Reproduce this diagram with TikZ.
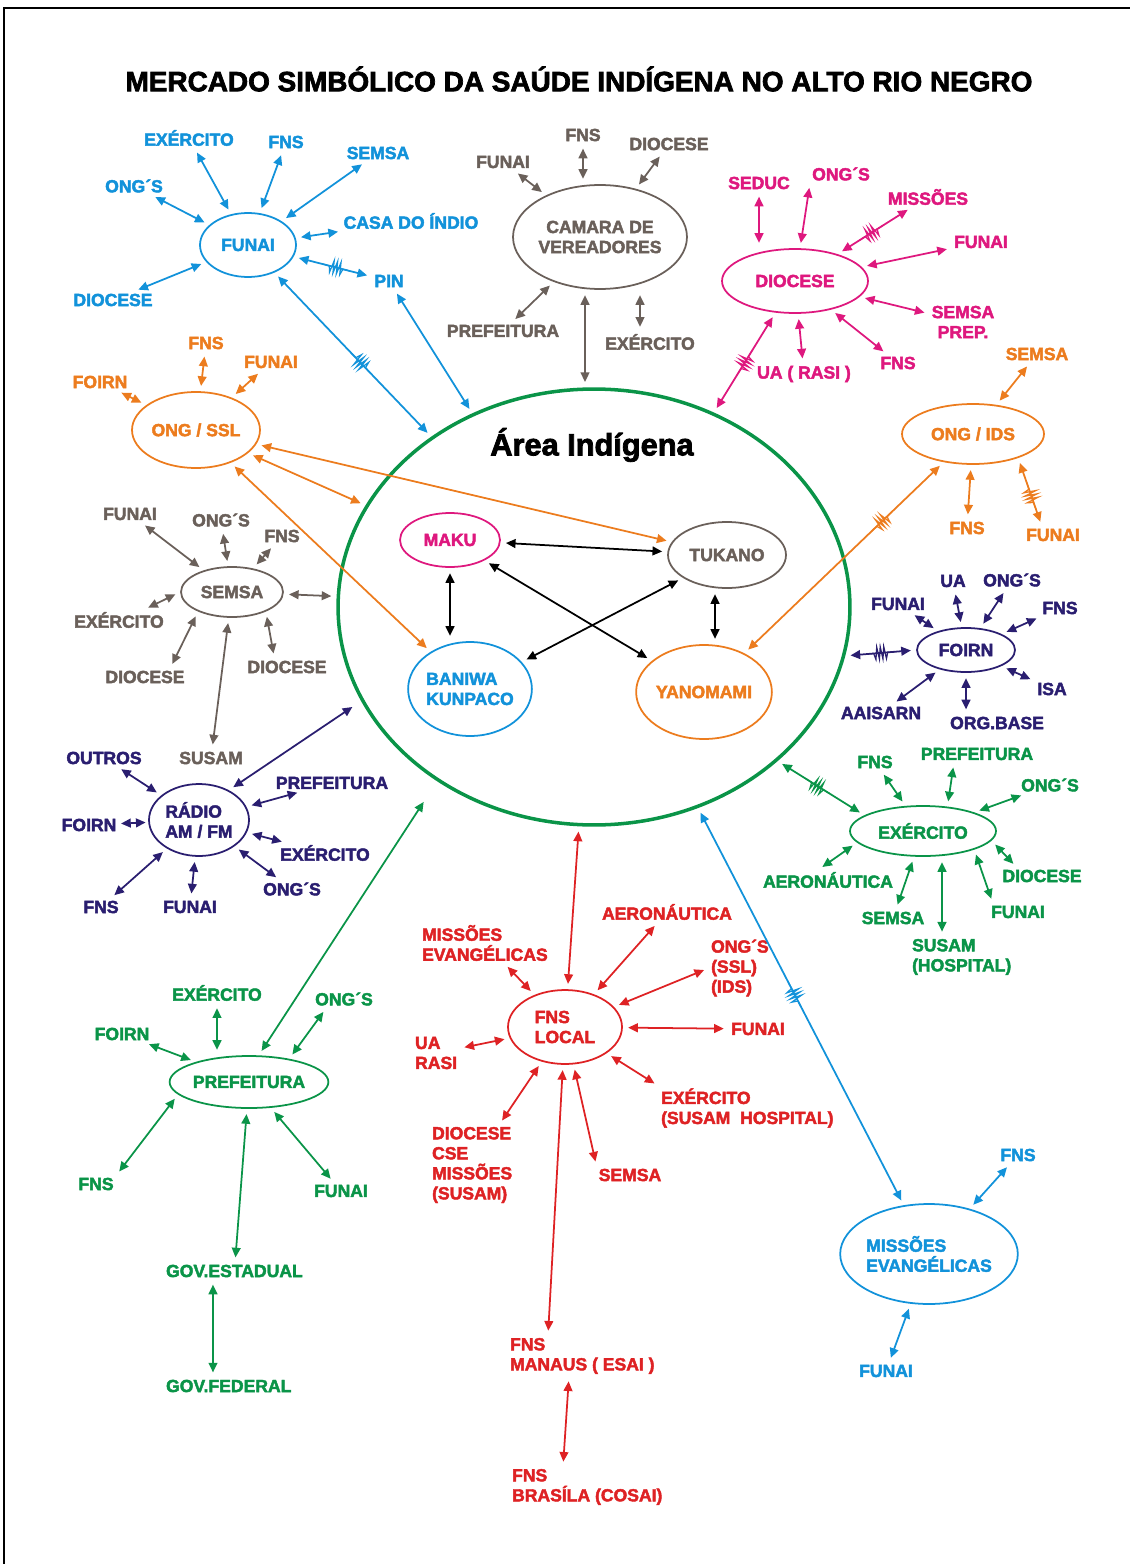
\documentclass[tikz,border=0pt]{standalone}
\usepackage{fontspec}
\setmainfont{Liberation Sans}[BoldFeatures={FakeBold=2.5}]
\usepackage{tikz}
\usetikzlibrary{arrows.meta,shapes.geometric,decorations.markings}
\definecolor{cblue}{RGB}{18,146,218}
\definecolor{cgray}{RGB}{106,96,90}
\definecolor{cmag}{RGB}{222,24,126}
\definecolor{corange}{RGB}{236,124,30}
\definecolor{cnavy}{RGB}{42,30,112}
\definecolor{cgreen}{RGB}{10,148,72}
\definecolor{cred}{RGB}{222,34,36}

\begin{document}
\begin{tikzpicture}[x=0.02cm,y=-0.02cm,>={Triangle[length=5.5pt,width=5pt]},
	lbl/.style={font=\bfseries\fontsize{10}{11.4}\selectfont,inner sep=1pt,align=left},
	ent/.style={ellipse,draw,line width=1pt,inner sep=0pt,font=\bfseries\fontsize{10}{11.4}\selectfont,align=left},
	lnk/.style={<->,line width=1pt,shorten <=3pt,shorten >=3pt},
	zz/.style={postaction={decorate,decoration={markings,mark=at position #1 with {\draw[-,line width=0.7pt,shorten <=0pt,shorten >=0pt] (-8pt,0pt) -- (-4pt,0pt) -- (-3pt,3.5pt) -- (-2pt,-3.5pt) -- (-1pt,3.5pt) -- (0pt,-3.5pt) -- (1pt,3.5pt) -- (2pt,-3.5pt) -- (3pt,3.5pt) -- (4pt,0pt) -- (8pt,0pt);}}}}]

	\useasboundingbox (0,0) rectangle (1130,1564);
	\draw[line width=1.2pt] (4,1564) -- (4,8) -- (1130,8);

	\node[font=\bfseries\fontsize{15.9}{18}\selectfont] (title) at (579,79) {MERCADO SIMBÓLICO DA SAÚDE INDÍGENA NO ALTO RIO NEGRO};

	\node[ellipse,draw=cgreen,line width=2pt,minimum width=10.24cm,minimum height=8.72cm] (area) at (594,607) {};
	\node[font=\bfseries\fontsize{17.5}{20}\selectfont] (areatxt) at (592,445) {Área Indígena};

	\node[ent,draw=cmag,text=cmag,minimum width=2cm,minimum height=1.08cm] (maku) at (450,540) {MAKU};
	\node[ent,draw=cgray,text=cgray,minimum width=2.36cm,minimum height=1.32cm] (tukano) at (727,555) {TUKANO};
	\node[ent,draw=cblue,text=cblue,minimum width=2.32cm,minimum height=1.88cm] (baniwa) at (470,689) {BANIWA\\KUNPACO};
	\node[ent,draw=corange,text=corange,minimum width=2.6cm,minimum height=1.88cm] (yanomami) at (704,692) {YANOMAMI};

	\draw[lnk] (maku) -- (tukano);
	\draw[lnk] (maku.south) -- (maku.south |- baniwa.north);
	\draw[lnk] (maku) -- (yanomami);
	\draw[lnk] (tukano) -- (baniwa);
	\draw[lnk] ([xshift=-0.24cm]tukano.south) -- ([xshift=-0.24cm]tukano.south |- yanomami.north);

	\node[ent,draw=cblue,text=cblue,minimum width=1.92cm,minimum height=1.28cm] (funai) at (248,245) {FUNAI};
	\node[lbl,cblue] (fuExe) at (189,138) {EXÉRCITO};
	\node[lbl,cblue] (fuFns) at (286,142) {FNS};
	\node[lbl,cblue] (fuSem) at (378,153) {SEMSA};
	\node[lbl,cblue] (fuOng) at (134,186) {ONG´S};
	\node[lbl,cblue] (fuCasa) at (411,221) {CASA DO ÍNDIO};
	\node[lbl,cblue] (fuPin) at (389,281) {PIN};
	\node[lbl,cblue] (fuDio) at (113,300) {DIOCESE};
	\draw[lnk,cblue] (fuExe) -- (funai);
	\draw[lnk,cblue] (fuFns) -- (funai);
	\draw[lnk,cblue] (fuSem) -- (funai);
	\draw[lnk,cblue] (fuOng) -- (funai);
	\draw[lnk,cblue] (fuCasa) -- (funai);
	\draw[lnk,cblue,zz=0.46] (fuPin) -- (funai);
	\draw[lnk,cblue] (fuDio) -- (funai);
	\draw[lnk,cblue,zz=0.55] (funai) -- (area);
	\draw[lnk,cblue] (fuPin) -- (area);

	\node[ent,draw=cgray,text=cgray,minimum width=3.08cm,minimum height=2.08cm,align=center] (camara) at (600,237) {CAMARA DE\\VEREADORES};
	\node[lbl,cgray] (caFns) at (583,135) {FNS};
	\node[lbl,cgray] (caDio) at (669,144) {DIOCESE};
	\node[lbl,cgray] (caFun) at (503,162) {FUNAI};
	\node[lbl,cgray] (caPre) at (503,331) {PREFEITURA};
	\node[lbl,cgray] (caExe) at (650,342) {EXÉRCITO};
	\draw[lnk,cgray] (caFns) -- (caFns |- camara.north);
	\draw[lnk,cgray] (caDio) -- (camara);
	\draw[lnk,cgray] (caFun) -- (camara);
	\draw[lnk,cgray] (caPre) -- (camara);
	\draw[lnk,cgray] ([xshift=-0.2cm]caExe.north) -- ([xshift=-0.2cm]caExe.north |- camara.south);
	\draw[lnk,cgray] ([xshift=-0.3cm]camara.south) -- ([xshift=-0.3cm]camara.south |- area.north);

	\node[ent,draw=cmag,text=cmag,minimum width=2.92cm,minimum height=1.28cm] (diocese) at (795,281) {DIOCESE};
	\node[lbl,cmag] (dSed) at (759,183) {SEDUC};
	\node[lbl,cmag] (dOng) at (841,174) {ONG´S};
	\node[lbl,cmag] (dMis) at (928,197) {MISSÕES};
	\node[lbl,cmag] (dFun) at (981,242) {FUNAI};
	\node[lbl,cmag,align=center] (dSem) at (963,322) {SEMSA\\PREP.};
	\node[lbl,cmag] (dFns) at (898,363) {FNS};
	\node[lbl,cmag] (dUa) at (804,374) {UA ( RASI )};
	\draw[lnk,cmag] (dSed) -- (dSed |- diocese.north);
	\draw[lnk,cmag] (dOng.south west) -- (diocese);
	\draw[lnk,cmag,zz=0.55] (dMis) -- (diocese);
	\draw[lnk,cmag] (dFun) -- (diocese);
	\draw[lnk,cmag] (dSem) -- (diocese);
	\draw[lnk,cmag] (dFns) -- (diocese);
	\draw[lnk,cmag] (dUa) -- (diocese);
	\draw[lnk,cmag,zz=0.5] (diocese) -- (area);

	\node[ent,draw=corange,text=corange,minimum width=2.84cm,minimum height=1.2cm] (ongids) at (973,434) {ONG / IDS};
	\node[lbl,corange] (iSem) at (1037,354) {SEMSA};
	\node[lbl,corange] (iFns) at (967,528) {FNS};
	\node[lbl,corange] (iFun) at (1053,535) {FUNAI};
	\draw[lnk,corange] (iSem) -- (ongids);
	\draw[lnk,corange] (iFns) -- (ongids);
	\draw[lnk,corange,zz=0.45] ([xshift=-0.22cm]iFun.north) -- (ongids.-28);
	\draw[lnk,corange,zz=0.31] (ongids) -- (yanomami);

	\node[ent,draw=corange,text=corange,minimum width=2.56cm,minimum height=1.52cm] (ongssl) at (196,430) {ONG / SSL};
	\node[lbl,corange] (sFns) at (206,343) {FNS};
	\node[lbl,corange] (sFun) at (271,362) {FUNAI};
	\node[lbl,corange] (sFoi) at (100,382) {FOIRN};
	\draw[lnk,corange] (sFns) -- (ongssl);
	\draw[lnk,corange] (sFun) -- (ongssl);
	\draw[lnk,corange] (sFoi) -- (ongssl);
	\draw[lnk,corange] (ongssl) -- (tukano);
	\draw[lnk,corange] (ongssl) -- (area);
	\draw[lnk,corange] (ongssl) -- (baniwa);

	\node[ent,draw=cgray,text=cgray,minimum width=2.04cm,minimum height=1cm] (semsa) at (232,592) {SEMSA};
	\node[lbl,cgray] (mFun) at (130,514) {FUNAI};
	\node[lbl,cgray] (mOng) at (221,520) {ONG´S};
	\node[lbl,cgray] (mFns) at (282,536) {FNS};
	\node[lbl,cgray] (mExe) at (119,620) {EXÉRCITO};
	\node[lbl,cgray] (mDio) at (145,677) {DIOCESE};
	\node[lbl,cgray] (mDioB) at (287,667) {DIOCESE};
	\node[lbl,cgray] (susam) at (211,758) {SUSAM};
	\draw[lnk,cgray] (mFun) -- (semsa);
	\draw[lnk,cgray] (mOng) -- (semsa);
	\draw[lnk,cgray] (mFns) -- (semsa);
	\draw[lnk,cgray] ([xshift=-0.45cm]mExe.north east) -- (semsa.west);
	\draw[lnk,cgray] ([xshift=0.5cm]mDio.north) -- (semsa.-150);
	\draw[lnk,cgray] ([xshift=-0.25cm]mDioB.north) -- (semsa.-30);
	\draw[lnk,cgray] (semsa) -- (area);
	\draw[lnk,cgray] (semsa) -- (susam);

	\node[ent,draw=cnavy,text=cnavy,minimum width=2cm,minimum height=1.44cm] (radio) at (199,820) {RÁDIO\\AM / FM};
	\node[lbl,cnavy] (rOut) at (104,758) {OUTROS};
	\node[lbl,cnavy] (rFoi) at (89,825) {FOIRN};
	\node[lbl,cnavy] (rPre) at (332,783) {PREFEITURA};
	\node[lbl,cnavy] (rExe) at (325,853) {EXÉRCITO};
	\node[lbl,cnavy] (rOng) at (292,889) {ONG´S};
	\node[lbl,cnavy] (rFns) at (101,907) {FNS};
	\node[lbl,cnavy] (rFun) at (190,907) {FUNAI};
	\draw[lnk,cnavy] (rOut) -- (radio);
	\draw[lnk,cnavy,shorten <=1.5pt,shorten >=1.5pt] (rFoi) -- (radio);
	\draw[lnk,cnavy] (rPre) -- (radio);
	\draw[lnk,cnavy] (rExe) -- (radio);
	\draw[lnk,cnavy] (rOng) -- (radio);
	\draw[lnk,cnavy] (rFns) -- (radio);
	\draw[lnk,cnavy] (rFun) -- (radio);
	\draw[lnk,cnavy,shorten >=6pt] (radio.45) -- (area.-158);

	\node[ent,draw=cgreen,text=cgreen,minimum width=2.92cm,minimum height=1.04cm] (prefeitura) at (249,1082) {PREFEITURA};
	\node[lbl,cgreen] (pExe) at (217,993) {EXÉRCITO};
	\node[lbl,cgreen] (pOng) at (344,999) {ONG´S};
	\node[lbl,cgreen] (pFoi) at (122,1034) {FOIRN};
	\node[lbl,cgreen] (pFns) at (96,1184) {FNS};
	\node[lbl,cgreen] (pFun) at (341,1191) {FUNAI};
	\node[lbl,cgreen,anchor=west] (govest) at (164,1271) {GOV.ESTADUAL};
	\node[lbl,cgreen,anchor=west] (govfed) at (164,1386) {GOV.FEDERAL};
	\draw[lnk,cgreen] (pExe) -- (pExe |- prefeitura.north);
	\draw[lnk,cgreen] ([xshift=-0.35cm]pOng.south) -- (prefeitura.30);
	\draw[lnk,cgreen] (pFoi) -- (prefeitura);
	\draw[lnk,cgreen] ([xshift=0.4cm]pFns.north) -- (prefeitura.-170);
	\draw[lnk,cgreen] (pFun) -- (prefeitura);
	\draw[lnk,cgreen,shorten >=14pt] (prefeitura.70) -- (area.-132);
	\draw[lnk,cgreen] (prefeitura) -- (govest);
	\draw[lnk,cgreen] ([xshift=0.98cm]govest.south west) -- ([xshift=0.98cm]govfed.north west);

	\node[ent,draw=cred,text=cred,minimum width=2.28cm,minimum height=1.48cm] (fnslocal) at (565,1027) {FNS\\LOCAL};
	\node[lbl,cred] (lAer) at (667,912) {AERONÁUTICA};
	\node[lbl,cred,anchor=west] (lMis) at (420,943) {MISSÕES\\EVANGÉLICAS};
	\node[lbl,cred,anchor=west] (lOng) at (709,968) {ONG´S\\(SSL)\\(IDS)};
	\node[lbl,cred] (lFun) at (758,1029) {FUNAI};
	\node[lbl,cred,anchor=west] (lUa) at (413,1053) {UA\\RASI};
	\node[lbl,cred,anchor=west] (lExe) at (659,1108) {EXÉRCITO\\(SUSAM~~HOSPITAL)};
	\node[lbl,cred,anchor=west] (lDio) at (430,1165) {DIOCESE\\CSE\\MISSÕES\\(SUSAM)};
	\node[lbl,cred] (lSem) at (630,1175) {SEMSA};
	\node[lbl,cred,anchor=west] (manaus) at (508,1356) {FNS\\MANAUS ( ESAI )};
	\node[lbl,cred,anchor=west] (brasila) at (510,1487) {FNS\\BRASÍLA (COSAI)};
	\draw[lnk,cred] (lAer) -- (fnslocal);
	\draw[lnk,cred] (lMis) -- (fnslocal);
	\draw[lnk,cred] (lOng.west) -- (fnslocal);
	\draw[lnk,cred] (lFun) -- (fnslocal);
	\draw[lnk,cred] (lUa) -- (fnslocal);
	\draw[lnk,cred] (lExe.north west) -- (fnslocal);
	\draw[lnk,cred] (lDio) -- (fnslocal);
	\draw[lnk,cred] (lSem.north west) -- (fnslocal);
	\draw[lnk,cred] (fnslocal) -- (area);
	\draw[lnk,cred] (fnslocal) -- ([xshift=0.8cm]manaus.north west);
	\draw[lnk,cred] ([xshift=1.22cm]manaus.south west) -- ([xshift=1.06cm]brasila.north west);

	\node[ent,draw=cgreen,text=cgreen,minimum width=2.92cm,minimum height=1cm] (exercito) at (923,831) {EXÉRCITO};
	\node[lbl,cgreen] (eFns) at (875,762) {FNS};
	\node[lbl,cgreen] (ePre) at (977,754) {PREFEITURA};
	\node[lbl,cgreen] (eOng) at (1050,785) {ONG´S};
	\node[lbl,cgreen] (eAer) at (828,880) {AERONÁUTICA};
	\node[lbl,cgreen] (eDio) at (1042,876) {DIOCESE};
	\node[lbl,cgreen] (eSem) at (893,918) {SEMSA};
	\node[lbl,cgreen,anchor=west] (eSus) at (910,957) {SUSAM\\(HOSPITAL)};
	\node[lbl,cgreen] (eFun) at (1018,912) {FUNAI};
	\draw[lnk,cgreen] (eFns) -- (exercito);
	\draw[lnk,cgreen] ([xshift=-0.46cm]ePre.south) -- (exercito.45);
	\draw[lnk,cgreen] (eOng) -- (exercito);
	\draw[lnk,cgreen] ([xshift=-0.2cm]eAer.north) -- (exercito.-170);
	\draw[lnk,cgreen] ([xshift=-0.5cm]eDio.north) -- (exercito.-8);
	\draw[lnk,cgreen] (eSem) -- (exercito);
	\draw[lnk,cgreen] ([xshift=0.64cm]eSus.north west) -- ([xshift=0.64cm]eSus.north west |- exercito.south);
	\draw[lnk,cgreen] ([xshift=-0.5cm]eFun.north) -- (exercito.-20);
	\draw[lnk,cgreen,zz=0.54] (exercito.165) -- (area.-40);

	\node[ent,draw=cnavy,text=cnavy,minimum width=1.96cm,minimum height=0.88cm] (foirn) at (966,650) {FOIRN};
	\node[lbl,cnavy] (oUa) at (953,581) {UA};
	\node[lbl,cnavy] (oOng) at (1012,580) {ONG´S};
	\node[lbl,cnavy] (oFun) at (898,604) {FUNAI};
	\node[lbl,cnavy] (oFns) at (1060,608) {FNS};
	\node[lbl,cnavy] (oIsa) at (1052,689) {ISA};
	\node[lbl,cnavy] (oOrg) at (997,723) {ORG.BASE};
	\node[lbl,cnavy] (oAai) at (881,713) {AAISARN};
	\draw[lnk,cnavy] (oUa) -- (foirn);
	\draw[lnk,cnavy] (oOng) -- (foirn);
	\draw[lnk,cnavy] (oFun) -- (foirn);
	\draw[lnk,cnavy] (oFns) -- (foirn);
	\draw[lnk,cnavy] (oIsa) -- (foirn);
	\draw[lnk,cnavy] (foirn.south) -- (foirn.south |- oOrg.north);
	\draw[lnk,cnavy] (oAai) -- (foirn);
	\draw[lnk,cnavy,zz=0.5] (foirn.west) -- (area.-11);

	\node[ent,draw=cblue,text=cblue,minimum width=3.32cm,minimum height=2cm] (missoes) at (929,1254) {MISSÕES\\EVANGÉLICAS};
	\node[lbl,cblue] (vFns) at (1018,1155) {FNS};
	\node[lbl,cblue] (vFun) at (886,1371) {FUNAI};
	\draw[lnk,cblue] (vFns) -- (missoes);
	\draw[lnk,cblue] (vFun) -- (missoes);
	\draw[lnk,cblue,zz=0.53] (missoes) -- (area);
\end{tikzpicture}
\end{document}
